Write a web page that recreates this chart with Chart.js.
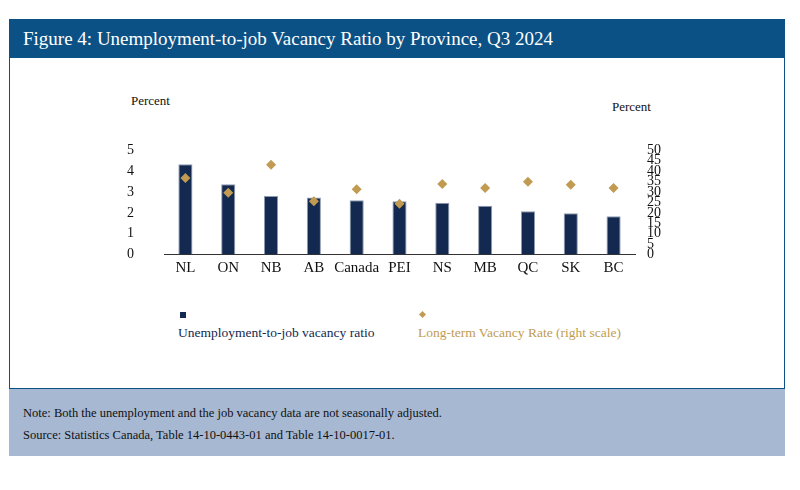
<!DOCTYPE html>
<html><head><meta charset="utf-8">
<script src="https://cdn.jsdelivr.net/npm/chart.js@4"></script>
<style>
body{margin:0;background:#fff;font-family:"Liberation Serif",serif;}
#frame{position:absolute;left:9px;top:19px;width:776px;height:370px;border:1.5px solid #0c5185;box-sizing:border-box;}
#title{position:absolute;left:9px;top:19px;width:776px;height:39px;background:#0c5185;color:#fff;font-size:19px;line-height:39px;padding-left:14px;box-sizing:border-box;}
#note{position:absolute;left:9px;top:389px;width:776px;height:67px;background:#a7b8d2;font-size:12.5px;color:#111;padding:13px 0 0 14px;box-sizing:border-box;line-height:22px;}
.lab{position:absolute;font-size:13px;color:#111;}
.lg{position:absolute;font-size:13.5px;}
</style></head><body>
<div id="frame"></div>
<div id="title">Figure 4: Unemployment-to-job Vacancy Ratio by Province, Q3 2024</div>
<div class="lab" style="left:131px;top:93px">Percent</div>
<div class="lab" style="left:612px;top:99px">Percent</div>
<div style="position:absolute;left:105px;top:120px;width:560px;height:165px"><canvas id="c"></canvas></div>
<div style="position:absolute;left:180px;top:312px;width:6px;height:6px;background:#13294f"></div>
<div class="lg" style="left:178px;top:325px;color:#13294f">Unemployment-to-job vacancy ratio</div>
<div style="position:absolute;left:420px;top:312px;width:5px;height:5px;background:#c19b52;transform:rotate(45deg)"></div>
<div class="lg" style="left:418px;top:325px;color:#c19b52">Long-term Vacancy Rate (right scale)</div>
<div id="note">Note: Both the unemployment and the job vacancy data are not seasonally adjusted.<br>Source: Statistics Canada, Table 14-10-0443-01 and Table 14-10-0017-01.</div>
<script>
const provinces = ['NL','ON','NB','AB','Canada','PEI','NS','MB','QC','SK','BC'];
const ratio = [4.33,3.37,2.81,2.74,2.61,2.56,2.49,2.35,2.08,1.99,1.84];
const longTermRate = [36.7,29.7,43.1,25.6,31.3,24.4,33.9,32.0,35.0,33.5,32.0];
const leftTicks = [0,1,2,3,4,5];
const rightTicks = [0,5,10,15,20,25,30,35,40,45,50];

const font = {family:'Liberation Serif', size:14};
new Chart(document.getElementById('c'), {
    data: {
        labels: provinces,
        datasets: [{
            type: 'scatter',
            label: 'Long-term Vacancy Rate (right scale)',
            data: longTermRate,
            yAxisID: 'y2',
            backgroundColor: '#c19b52',
            pointStyle: 'rectRot',
            pointRadius: 5,
            pointBorderWidth: 0
        }, {
            type: 'bar',
            label: 'Unemployment-to-job vacancy ratio',
            data: ratio,
            yAxisID: 'y',
            backgroundColor: '#13294f',
            borderColor: '#8f9bb3',
            borderWidth: 1,
            categoryPercentage: 1,
            barPercentage: 0.33
        }]
    },
    options: {
        responsive: true, maintainAspectRatio: false, animation: false,
        plugins: {legend: {display: false}, tooltip: {enabled: false}},
        scales: {
            x: {type:'category', offset:true, grid:{display:false, drawTicks:false}, border:{color:'#333'},
                ticks:{font:{family:'Liberation Serif', size:15}, color:'#111', padding:4, maxRotation:0, autoSkip:false}},
            y: {min:0, max:5, afterBuildTicks: a => { a.ticks = leftTicks.map(v => ({value:v})); },
                grid:{display:false}, border:{display:false},
                ticks:{font, color:'#111', padding:22, autoSkip:false}},
            y2: {position:'right', min:0, max:50, afterBuildTicks: a => { a.ticks = rightTicks.map(v => ({value:v})); },
                grid:{display:false}, border:{display:false},
                ticks:{font, color:'#111', padding:4, autoSkip:false}}
        }
    }
});
</script>
</body></html>
